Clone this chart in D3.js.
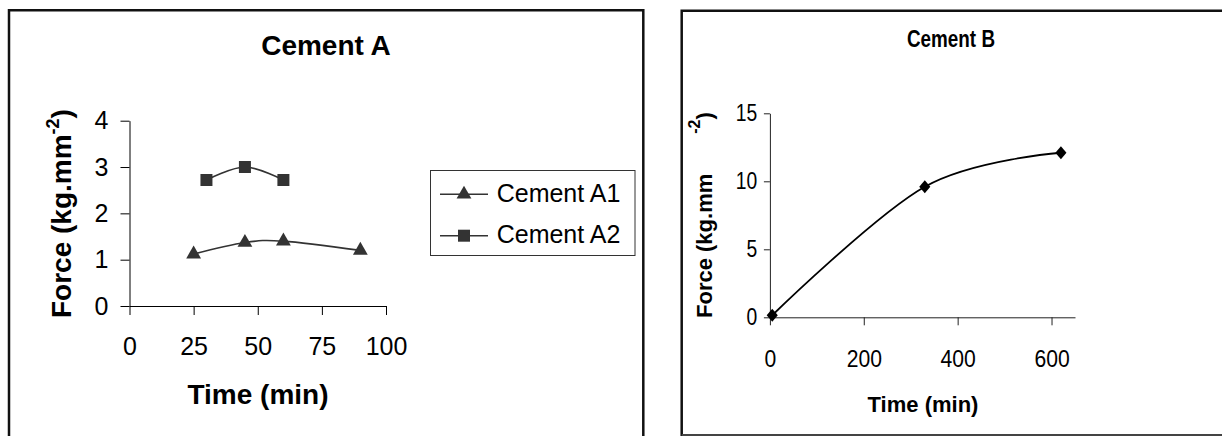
<!DOCTYPE html>
<html>
<head>
<meta charset="utf-8">
<script src="https://cdn.jsdelivr.net/npm/d3@7"></script>
<style>
  body { margin: 0; background: #fff; }
  svg { display: block; font-family: "Liberation Sans", Arial, sans-serif; }
</style>
</head>
<body>
<script>
// Cement A (left)
const a1Time = [25, 45, 60, 90]
const a1Force = [1.12, 1.37, 1.4, 1.2]
const a2Time = [30, 45, 60]
const a2Force = [2.72, 3.0, 2.72]
const aTicksX = [0, 25, 50, 75, 100]
const aTicksY = [0, 1, 2, 3, 4]
const legendNames = ["Cement A1", "Cement A2"]

// Cement B (right)
const bTime = [5, 330, 620]
const bForce = [0.15, 9.6, 12.1]
const bTicksX = [0, 200, 400, 600]
const bTicksY = [0, 5, 10, 15]

const w = 1222
const h = 436

const svg = d3.select("body")
  .append("svg")
  .attr("width", w)
  .attr("height", h)

// panel frames
svg.append("path")
  .attr("d", "M9,440V10.3H643.3V440")
  .attr("fill", "none")
  .attr("stroke", "#111")
  .attr("stroke-width", 2.5)
svg.append("path")
  .attr("d", "M681.7,436V10.7H1224")
  .attr("fill", "none")
  .attr("stroke", "#111")
  .attr("stroke-width", 2.5)
svg.append("line")
  .attr("x1", 681.7).attr("x2", 1224)
  .attr("y1", 435).attr("y2", 435)
  .attr("stroke", "#444")
  .attr("stroke-width", 2)

const zip = (xs, ys) => xs.map((x, i) => [x, ys[i]])

// ---------- Cement A ----------
const xA = d3.scaleLinear().domain([0, 100]).range([129.5, 386])
const yA = d3.scaleLinear().domain([0, 4]).range([306, 120.7])

const gxA = svg.append("g")
  .attr("transform", "translate(0,306)")
  .call(d3.axisBottom(xA).tickValues(aTicksX).tickFormat(d3.format("d"))
    .tickSize(9).tickSizeOuter(0).tickPadding(22))
const gyA = svg.append("g")
  .attr("transform", "translate(129.5,0)")
  .call(d3.axisLeft(yA).tickValues(aTicksY).tickFormat(d3.format("d"))
    .tickSize(9).tickSizeOuter(0).tickPadding(12))
;[gxA, gyA].forEach(g => {
  g.selectAll("path, line").attr("stroke", "#000")
  g.selectAll("text").attr("font-size", 25).attr("fill", "#000")
  g.attr("font-family", null)
})

const lineA = d3.line()
  .x(d => xA(d[0]))
  .y(d => yA(d[1]))
  .curve(d3.curveCardinal.tension(0))

const seriesA = [
  { name: legendNames[0], pts: zip(a1Time, a1Force), sym: d3.symbol().type(d3.symbolTriangle).size(95) },
  { name: legendNames[1], pts: zip(a2Time, a2Force), sym: d3.symbol().type(d3.symbolSquare).size(144) }
]

seriesA.forEach(s => {
  svg.append("path")
    .attr("d", lineA(s.pts))
    .attr("fill", "none")
    .attr("stroke", "#333")
    .attr("stroke-width", 1.6)
  svg.selectAll(null)
    .data(s.pts)
    .enter()
    .append("path")
    .attr("d", s.sym())
    .attr("transform", d => "translate(" + xA(d[0]) + "," + yA(d[1]) + ")")
    .attr("fill", "#333")
})

svg.append("text")
  .attr("x", 326).attr("y", 55)
  .attr("text-anchor", "middle")
  .attr("font-size", 28).attr("font-weight", "bold")
  .text("Cement A")

svg.append("text")
  .attr("x", 258).attr("y", 403.5)
  .attr("text-anchor", "middle")
  .attr("font-size", 28).attr("font-weight", "bold")
  .text("Time (min)")

const yTitleA = svg.append("text")
  .attr("transform", "translate(71,318) rotate(-90)")
  .attr("font-size", 28).attr("font-weight", "bold")
yTitleA.append("tspan").text("Force (kg.mm")
yTitleA.append("tspan").attr("font-size", 18).attr("dy", -12).text("-2")
yTitleA.append("tspan").attr("dy", 12).text(")")

// legend
svg.append("rect")
  .attr("x", 430.5).attr("y", 170.5)
  .attr("width", 204.5).attr("height", 85)
  .attr("fill", "none")
  .attr("stroke", "#333")
  .attr("stroke-width", 1)

const legend = svg.selectAll(".leg")
  .data(seriesA)
  .enter()
  .append("g")
  .attr("class", "leg")
  .attr("transform", (d, i) => "translate(0," + (194.3 + i * 41.4) + ")")
legend.append("line")
  .attr("x1", 440).attr("x2", 488)
  .attr("stroke", "#333").attr("stroke-width", 1.6)
legend.append("path")
  .attr("d", d => d.sym())
  .attr("transform", "translate(464,0)")
  .attr("fill", "#333")
legend.append("text")
  .attr("x", 496.7).attr("y", 7.6)
  .attr("font-size", 25)
  .text(d => d.name)

// ---------- Cement B ----------
const xB = d3.scaleLinear().domain([0, 650]).range([769.9, 1075])
const yB = d3.scaleLinear().domain([0, 15]).range([317.3, 113.3])

// the labels on this chart are squeezed sideways, so scale them in x
const gxB = svg.append("g")
  .attr("transform", "translate(0,317.3)")
  .call(d3.axisBottom(xB).tickValues(bTicksX).tickSize(8).tickSizeOuter(0).tickPadding(25))
const gyB = svg.append("g")
  .attr("transform", "translate(769.9,0)")
  .call(d3.axisLeft(yB).tickValues(bTicksY).tickSize(6).tickSizeOuter(0).tickPadding(9))
;[gxB, gyB].forEach(g => {
  g.selectAll("path, line").attr("stroke", "#222")
  g.selectAll("text").attr("fill", "#000")
  g.attr("font-family", null)
})
gxB.selectAll("text").attr("font-size", 24).attr("transform", "scale(0.88,1)")
gyB.selectAll("text").attr("font-size", 23).attr("transform", "scale(0.84,1)")

const lineB = d3.line()
  .x(d => xB(d[0]))
  .y(d => yB(d[1]))
  .curve(d3.curveCardinal.tension(0))

const ptsB = zip(bTime, bForce)
svg.append("path")
  .attr("d", lineB(ptsB))
  .attr("fill", "none")
  .attr("stroke", "#000")
  .attr("stroke-width", 1.8)
svg.selectAll(null)
  .data(ptsB)
  .enter()
  .append("path")
  .attr("d", d3.symbol().type(d3.symbolSquare).size(76)())
  .attr("transform", d => "translate(" + xB(d[0]) + "," + yB(d[1]) + ") scale(0.9,1.05) rotate(45)")
  .attr("fill", "#000")

svg.append("text")
  .attr("x", 951).attr("y", 46.7)
  .attr("text-anchor", "middle")
  .attr("font-size", 23).attr("font-weight", "bold")
  .attr("textLength", 88)
  .attr("lengthAdjust", "spacingAndGlyphs")
  .text("Cement B")

svg.append("text")
  .attr("x", 923).attr("y", 411.7)
  .attr("text-anchor", "middle")
  .attr("font-size", 22).attr("font-weight", "bold")
  .text("Time (min)")

const yTitleB = svg.append("text")
  .attr("transform", "translate(712,318) rotate(-90)")
  .attr("font-size", 22).attr("font-weight", "bold")
yTitleB.append("tspan").text("Force (kg.mm")
yTitleB.append("tspan").attr("font-size", 16).attr("dx", 40).attr("dy", -12).text("-2")
yTitleB.append("tspan").attr("dy", 12).text(")")
</script>
</body>
</html>
